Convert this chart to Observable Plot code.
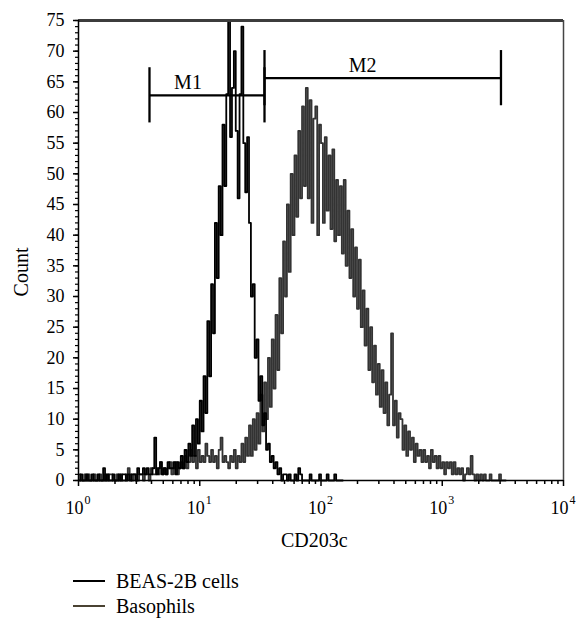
<!DOCTYPE html>
<html>
<head>
<meta charset="utf-8">
<script src="https://cdn.jsdelivr.net/npm/d3@7"></script>
<script src="https://cdn.jsdelivr.net/npm/@observablehq/plot@0.6"></script>
<style>
  html, body { margin: 0; padding: 0; background: #fff; }
  #fig { position: relative; width: 578px; height: 623px; font-family: "Liberation Serif", "Times New Roman", serif; color: #000; }
  #legend { position: absolute; left: 0; top: 0; width: 578px; height: 623px; pointer-events: none; }
  .item { position: absolute; left: 73px; display: flex; align-items: center; font-size: 20px; line-height: 22px; }
  .swatch { display: inline-block; width: 32px; height: 2px; margin-right: 11px; }
</style>
</head>
<body>
<div id="fig"></div>
<script>
// ---- data ----
const seriesNames = ["BEAS-2B cells", "Basophils"];
const seriesColors = ["#000000", "#4a4232"];
const channelsPerDecade = 64;

// BEAS-2B cells counts per channel, starting at channel 0
const beasCounts = [
  0,1,0,0,1,0,0,1,0,0,
  1,0,0,2,0,1,0,0,1,0,
  0,1,0,1,1,0,1,0,1,1,
  0,2,1,1,2,1,2,1,1,2,
  7,1,2,3,1,2,1,3,2,2,
  3,1,3,2,4,2,5,3,6,4,
  9,4,10,6,13,8,17,11,26,17,
  32,24,42,33,48,40,58,48,63,75,
  56,64,70,57,46,63,74,55,47,56,
  42,30,32,20,23,13,17,9,11,5,
  6,3,4,2,3,1,2,0,1,1,
  0,1,0,0,1,0,2,1,0,0,
  0,0,1,0,0,0,0,1,0,0,
  0,1,0,0,0,1,0,0,0,0
];

// Basophils counts per channel, starting at channel 0
const basoCounts = [
  1,0,0,1,0,1,0,0,1,0,
  0,1,0,0,1,0,1,1,0,0,
  1,0,1,0,0,1,2,1,0,1,
  1,0,1,1,0,1,1,0,2,1,
  1,2,1,3,1,2,1,2,3,1,
  2,3,1,2,3,2,4,2,3,5,
  3,4,2,5,3,4,3,6,4,3,
  5,3,4,2,5,7,3,4,3,2,
  4,3,5,2,4,3,6,3,7,4,
  9,4,10,5,11,6,14,8,16,10,
  20,12,23,15,27,18,33,24,39,30,
  45,34,50,40,53,43,57,46,61,48,
  64,46,62,42,59,61,40,58,55,42,
  56,44,53,41,54,39,49,40,48,37,
  49,35,44,33,41,30,38,28,36,25,
  31,22,28,18,25,16,22,14,19,12,
  18,11,16,9,14,24,9,13,7,11,
  10,5,9,4,8,5,7,3,6,4,
  5,3,5,3,4,2,5,3,4,2,
  4,2,3,1,3,2,3,1,3,1,
  2,1,2,0,1,2,1,4,1,0,
  1,0,1,0,1,0,0,1,0,0,
  0,0,1,0,0,0
];

// gates
const gateNames = ["M1", "M2"];
const gateStart = [3.85, 34.2];
const gateEnd = [34.2, 3050];
const gateLevel = [62.8, 65.6];
const gateLabelX = [8, 220];
const gateLabelY = [64.8, 67.6];

// axes
const yTicks = [0,5,10,15,20,25,30,35,40,45,50,55,60,65,70,75];
const xDecades = [1, 10, 100, 1000, 10000];
const xExponents = ["0", "1", "2", "3", "4"];
const xLabel = "CD203c";
const yLabel = "Count";

// ---- build ----
const toRows = (arr) => arr.map((c, i) => ({x: Math.pow(10, (i + 0.5) / channelsPerDecade), y: c}));
const beasRows = toRows(beasCounts);
const basoRows = toRows(basoCounts);

const yMinor = d3.range(0, 76, 1);
const xMinor = [];
for (const d of xDecades.slice(0, -1)) for (let k = 2; k <= 9; k++) xMinor.push(d * k);

const gates = gateNames.map((n, i) => ({name: n, x1: gateStart[i], x2: gateEnd[i], y: gateLevel[i], lx: gateLabelX[i], ly: gateLabelY[i]}));
const gateTicks = gates.flatMap(g => [{x: g.x1, y1: g.y - 4.5, y2: g.y + 4.5}, {x: g.x2, y1: g.y - 4.5, y2: g.y + 4.5}]);
const decadeRows = xDecades.map((d, i) => ({x: d, e: xExponents[i]}));

const chart = Plot.plot({
  width: 578,
  height: 560,
  marginLeft: 78,
  marginRight: 15,
  marginTop: 20,
  marginBottom: 80,
  x: {type: "log", domain: [1, 10000]},
  y: {domain: [0, 75]},
  style: {fontFamily: "'Liberation Serif', 'Times New Roman', serif", fontSize: "18px", background: "#fff", color: "#000"},
  marks: [
    // histograms
    Plot.lineY(basoRows, {x: "x", y: "y", curve: "step", stroke: "#333333", strokeWidth: 1.8}),
    Plot.lineY(beasRows, {x: "x", y: "y", curve: "step", stroke: seriesColors[0], strokeWidth: 1.8}),
    // frame
    Plot.ruleY([75], {stroke: "#3c3c3c", strokeWidth: 3}),
    Plot.ruleX([10000], {stroke: "#444", strokeWidth: 1.5}),
    Plot.ruleX([1], {stroke: "#000", strokeWidth: 1.5}),
    Plot.ruleY([0], {stroke: "#000", strokeWidth: 1.5}),
    // y axis
    Plot.axisY({ticks: yMinor, tickSize: 3, tickFormat: () => "", label: null, strokeWidth: 1.2}),
    Plot.axisY({ticks: yTicks, tickSize: 5, tickPadding: 9, label: null, fontSize: 18, strokeWidth: 1.5}),
    // x axis
    Plot.axisX({ticks: xMinor, tickSize: 4, tickFormat: () => "", label: null, strokeWidth: 1.5}),
    Plot.axisX({ticks: xDecades, tickSize: 6, tickFormat: () => "", label: null, strokeWidth: 1.5}),
    Plot.text(decadeRows, {x: "x", y: () => 0, text: () => "10", textAnchor: "end", lineAnchor: "bottom", dx: 5, dy: 33, fontSize: 18, fill: "#000"}),
    Plot.text(decadeRows, {x: "x", y: () => 0, text: "e", textAnchor: "start", lineAnchor: "bottom", dx: 6, dy: 23.5, fontSize: 12, fill: "#000"}),
    // axis labels
    Plot.text([xLabel], {x: () => 88, y: () => 0, text: d => d, lineAnchor: "middle", dy: 60, fontSize: 20, fill: "#000"}),
    Plot.text([yLabel], {x: () => 1, y: () => 34, text: d => d, rotate: -90, lineAnchor: "middle", dx: -57, fontSize: 20, fill: "#000"}),
    // gates
    Plot.ruleY(gates, {y: "y", x1: "x1", x2: "x2", stroke: "#000", strokeWidth: 2.3}),
    Plot.ruleX(gateTicks, {x: "x", y1: "y1", y2: "y2", stroke: "#000", strokeWidth: 2.3}),
    Plot.text(gates, {x: "lx", y: "ly", text: "name", fontSize: 20, fill: "#000", lineAnchor: "middle"})
  ]
});

const fig = document.getElementById("fig");
fig.appendChild(chart);

const legend = document.createElement("div");
legend.id = "legend";
const legendTops = [570, 595];
seriesNames.forEach((name, i) => {
  const item = document.createElement("div");
  item.className = "item";
  item.style.top = legendTops[i] + "px";
  const sw = document.createElement("span");
  sw.className = "swatch";
  sw.style.background = seriesColors[i];
  const label = document.createElement("span");
  label.textContent = name;
  item.appendChild(sw);
  item.appendChild(label);
  legend.appendChild(item);
});
fig.appendChild(legend);
</script>
</body>
</html>
